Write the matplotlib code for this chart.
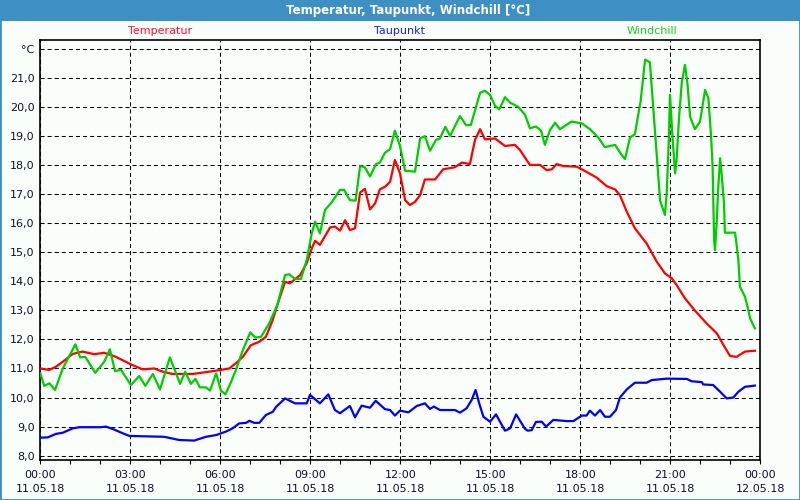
import matplotlib
matplotlib.use("Agg")
import matplotlib.pyplot as plt
from matplotlib.patches import Rectangle
from matplotlib.ticker import MultipleLocator

# hours since 11.05.18 00:00
temp_t = [0, 0.3, 0.52, 0.75, 1.08, 1.41, 1.8, 2.13, 2.52, 3.02,
          3.41, 3.8, 4.08, 4.41, 5.08, 5.63, 6.02, 6.3, 6.52, 6.75,
          7.02, 7.3, 7.52, 7.75, 7.88, 8.16, 8.32, 8.66, 8.88, 9.05,
          9.16, 9.32, 9.66, 9.82, 9.99, 10.16, 10.32, 10.49, 10.66, 10.82,
          10.99, 11.16, 11.32, 11.49, 11.66, 11.82, 11.99, 12.16, 12.32, 12.49,
          12.66, 12.82, 13.16, 13.43, 13.82, 14.05, 14.32, 14.49, 14.66, 14.82,
          15.16, 15.49, 15.82, 15.99, 16.32, 16.66, 16.88, 17.05, 17.21, 17.43,
          17.88, 18.21, 18.55, 18.88, 19.16, 19.32, 19.55, 19.82, 20.21, 20.55,
          20.82, 21.05, 21.21, 21.49, 21.82, 22.21, 22.55, 22.77, 22.99, 23.21,
          23.49, 23.82]
temp = [11.0, 10.95, 11.06, 11.23, 11.5, 11.58, 11.49, 11.54, 11.4, 11.14,
        10.97, 11.0, 10.89, 10.81, 10.81, 10.89, 10.95, 11.0, 11.18, 11.4,
        11.8, 11.92, 12.09, 12.67, 13.12, 13.98, 13.93, 14.21, 14.62, 15.13,
        15.39, 15.25, 15.85, 15.88, 15.74, 16.1, 15.76, 15.82, 17.05, 17.18,
        16.47, 16.68, 17.16, 17.25, 17.42, 18.17, 17.71, 16.79, 16.62, 16.73,
        16.96, 17.5, 17.5, 17.85, 17.92, 18.08, 18.03, 18.86, 19.23, 18.88,
        18.91, 18.65, 18.69, 18.51, 18.0, 18.0, 17.82, 17.85, 18.03, 17.96,
        17.94, 17.76, 17.56, 17.27, 17.16, 16.96, 16.39, 15.82, 15.3, 14.67,
        14.27, 14.1, 13.87, 13.41, 12.99, 12.55, 12.21, 11.81, 11.43, 11.4,
        11.58, 11.61]

dew_t = [0, 0.25, 0.52, 0.75, 1.08, 1.3, 2.02, 2.19, 2.41, 2.75,
         2.97, 4.13, 4.63, 5.13, 5.52, 5.86, 6.19, 6.41, 6.63, 6.86,
         6.97, 7.13, 7.3, 7.52, 7.75, 7.86, 8.16, 8.49, 8.88, 8.99,
         9.32, 9.6, 9.82, 9.99, 10.32, 10.49, 10.71, 10.99, 11.18, 11.49,
         11.66, 11.82, 11.99, 12.27, 12.55, 12.82, 12.99, 13.12, 13.32, 13.82,
         13.99, 14.21, 14.38, 14.51, 14.63, 14.77, 14.99, 15.19, 15.49, 15.66,
         15.86, 16.16, 16.25, 16.38, 16.52, 16.71, 16.86, 17.1, 17.55, 17.77,
         18.05, 18.21, 18.32, 18.49, 18.66, 18.82, 18.99, 19.19, 19.32, 19.55,
         19.82, 20.21, 20.38, 20.88, 21.55, 21.71, 22.05, 22.1, 22.43, 22.66,
         22.88, 23.1, 23.27, 23.49, 23.82]
dew = [8.62, 8.63, 8.75, 8.79, 8.94, 8.98, 8.98, 9.0, 8.92, 8.77,
       8.68, 8.65, 8.54, 8.52, 8.65, 8.71, 8.83, 8.94, 9.11, 9.13,
       9.2, 9.13, 9.13, 9.4, 9.51, 9.68, 9.97, 9.8, 9.8, 10.09,
       9.8, 10.11, 9.57, 9.46, 9.71, 9.32, 9.72, 9.65, 9.89, 9.6,
       9.57, 9.38, 9.55, 9.49, 9.71, 9.8, 9.61, 9.69, 9.57, 9.57,
       9.48, 9.63, 9.92, 10.26, 9.8, 9.34, 9.17, 9.42, 8.86, 8.94,
       9.42, 8.92, 8.86, 8.88, 9.16, 9.17, 9.0, 9.23, 9.19, 9.19,
       9.38, 9.38, 9.55, 9.38, 9.57, 9.34, 9.34, 9.57, 10.0, 10.28,
       10.51, 10.51, 10.6, 10.65, 10.64, 10.56, 10.53, 10.45, 10.43, 10.2,
       9.97, 10.0, 10.2, 10.37, 10.41]

wc_t = [0, 0.13, 0.3, 0.49, 0.75, 1.17, 1.33, 1.5, 1.83, 2.13,
        2.32, 2.49, 2.69, 3.02, 3.3, 3.5, 3.75, 3.99, 4.32, 4.66,
        4.83, 5.02, 5.17, 5.32, 5.52, 5.66, 5.86, 6.02, 6.17, 6.36,
        6.52, 6.75, 7.0, 7.17, 7.36, 7.63, 7.9, 8.16, 8.3, 8.49,
        8.69, 8.88, 9.05, 9.16, 9.32, 9.49, 9.71, 9.99, 10.13, 10.32,
        10.51, 10.66, 10.82, 10.99, 11.19, 11.32, 11.49, 11.66, 11.82, 11.99,
        12.16, 12.49, 12.66, 12.82, 12.99, 13.19, 13.32, 13.5, 13.66, 13.99,
        14.19, 14.35, 14.66, 14.82, 14.99, 15.16, 15.3, 15.49, 15.66, 15.93,
        16.16, 16.32, 16.52, 16.69, 16.82, 16.99, 17.16, 17.32, 17.71, 18.05,
        18.32, 18.6, 18.82, 19.16, 19.38, 19.49, 19.66, 19.82, 19.9, 20.01,
        20.16, 20.32, 20.43, 20.55, 20.66, 20.82, 20.88, 20.95, 20.99, 21.08,
        21.16, 21.21, 21.29, 21.38, 21.49, 21.57, 21.66, 21.82, 21.99, 22.16,
        22.27, 22.36, 22.41, 22.46, 22.49, 22.55, 22.6, 22.66, 22.71, 22.79,
        22.82, 23.16, 23.21, 23.27, 23.32, 23.49, 23.6, 23.66, 23.82]
wc = [10.83, 10.4, 10.49, 10.26, 11.0, 11.83, 11.38, 11.4, 10.85, 11.23,
      11.66, 10.91, 10.95, 10.43, 10.74, 10.4, 10.81, 10.28, 11.38, 10.47,
      10.89, 10.47, 10.64, 10.35, 10.35, 10.24, 10.83, 10.24, 10.11, 10.54,
      10.95, 11.63, 12.24, 12.06, 12.09, 12.55, 13.18, 14.21, 14.24, 14.08,
      14.08, 14.73, 15.65, 16.05, 15.65, 16.45, 16.71, 17.14, 17.14, 16.79,
      16.77, 17.96, 17.92, 17.6, 18.03, 18.08, 18.42, 18.54, 19.18, 18.65,
      17.8, 17.77, 18.91, 18.99, 18.49, 18.86, 18.91, 19.31, 19.0, 19.68,
      19.37, 19.37, 20.48, 20.55, 20.41, 20.03, 19.91, 20.33, 20.14, 20.0,
      19.72, 19.26, 19.32, 19.18, 18.69, 19.2, 19.45, 19.23, 19.49, 19.43,
      19.23, 18.94, 18.61, 18.69, 18.34, 18.2, 18.95, 19.05, 19.55, 20.18,
      21.62, 21.53, 20.0, 18.28, 16.77, 16.28, 17.02, 18.86, 20.41, 18.86,
      17.71, 18.17, 19.6, 20.81, 21.44, 20.81, 19.66, 19.23, 19.49, 20.58,
      20.29, 18.97, 17.94, 15.42, 15.07, 16.1, 17.25, 18.23, 17.71, 16.68,
      15.67, 15.67, 15.25, 14.73, 13.81, 13.47, 13.01, 12.72, 12.38]

x_ticks = [0, 3, 6, 9, 12, 15, 18, 21, 24]
x_labels = ["00:00\n11.05.18", "03:00\n11.05.18", "06:00\n11.05.18",
            "09:00\n11.05.18", "12:00\n11.05.18", "15:00\n11.05.18",
            "18:00\n11.05.18", "21:00\n11.05.18", "00:00\n12.05.18"]
y_ticks = [8, 9, 10, 11, 12, 13, 14, 15, 16, 17, 18, 19, 20, 21, 22]
y_labels = ["8,0", "9,0", "10,0", "11,0", "12,0", "13,0", "14,0", "15,0",
            "16,0", "17,0", "18,0", "19,0", "20,0", "21,0", "°C"]

bg = "#FAFEFA"
frame = "#3D8FC4"

fig = plt.figure(figsize=(8, 5), dpi=100, facecolor=bg)
ax = fig.add_axes([40.3 / 800, 40 / 500, 720 / 800, 420 / 500])
ax.set_facecolor(bg)

ax.plot(temp_t, temp, color="#FF0000", lw=1.6, zorder=3)
ax.plot(dew_t, dew, color="#0000FF", lw=1.6, zorder=3)
ax.plot(wc_t, wc, color="#00CC00", lw=1.6, zorder=3)

ax.set_xlim(0, 24)
ax.set_ylim(7.852, 22.296)
ax.set_xticks(x_ticks)
ax.set_xticklabels(x_labels, fontsize=8, color="#101028", linespacing=1.55)
ax.xaxis.set_minor_locator(MultipleLocator(1))
ax.set_yticks(y_ticks)
ax.set_yticklabels(y_labels, fontsize=8, color="#101028")
ax.tick_params(axis="x", which="both", direction="out", length=3, width=0.8, pad=4)
ax.tick_params(axis="y", length=0, pad=4)
# fine black dashes, about 4px on / 3px off
ax.grid(True, which="major", color="black", ls=(0, (3.9, 2.9)), lw=0.75)
for s in ax.spines.values():
    s.set_linewidth(1.2)
    s.set_color("black")

# series names above the plot
fig.text(160 / 800, 1 - 31 / 500, "Temperatur", color="#FF1030", fontsize=8,
         ha="center", va="center")
fig.text(400 / 800, 1 - 31 / 500, "Taupunkt", color="#2020E0", fontsize=8,
         ha="center", va="center")
fig.text(652 / 800, 1 - 31 / 500, "Windchill", color="#20CC20", fontsize=8,
         ha="center", va="center")

# title bar and window frame
fig.patches.append(Rectangle((0, 1 - 21 / 500), 1, 21 / 500, transform=fig.transFigure,
                             facecolor=frame, edgecolor="none", zorder=0))
fig.patches.append(Rectangle((0, 0), 1, 1, transform=fig.transFigure,
                             facecolor="none", edgecolor=frame, lw=2, zorder=5))
fig.text(0.51, 1 - 10.5 / 500, "Temperatur, Taupunkt, Windchill [°C]", color="white",
         fontsize=8.5, fontweight="bold", ha="center", va="center")

fig.savefig("out.png", dpi=100, facecolor=bg)
